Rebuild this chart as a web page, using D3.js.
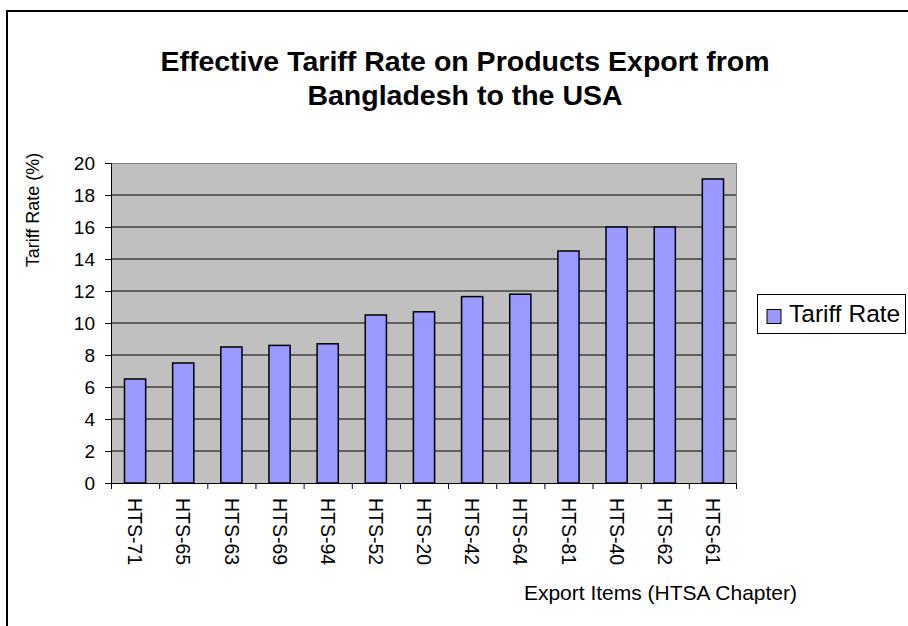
<!DOCTYPE html>
<html><head><meta charset="utf-8">
<script src="https://cdn.jsdelivr.net/npm/d3@7"></script>
<style>body{margin:0;background:#fff}svg{display:block;font-family:"Liberation Sans",Arial,sans-serif}</style>
</head><body><svg id="c" width="908" height="626"></svg>
<script>
const categories = ["HTS-71","HTS-65","HTS-63","HTS-69","HTS-94","HTS-52","HTS-20","HTS-42","HTS-64","HTS-81","HTS-40","HTS-62","HTS-61"];
const tariffRate = [6.5,7.5,8.5,8.6,8.7,10.5,10.7,11.65,11.8,14.5,16,16,19];
const yTicks = [0,2,4,6,8,10,12,14,16,18,20];
const titleLines = ["Effective Tariff Rate on Products Export from","Bangladesh to the USA"];
const seriesName = "Tariff Rate";

const svg = d3.select("#c");
const L=111, R=737, T=163, B=483;
const x = d3.scaleBand().domain(categories).range([L,R]).paddingInner(0.56).paddingOuter(0.28);
const xb = d3.scaleBand().domain(categories).range([L,R]);
const y = d3.scaleLinear().domain([0,20]).range([B,T]);

// outer border
svg.append("rect").attr("x",7).attr("y",11).attr("width",960).attr("height",700).attr("fill","#fff").attr("stroke","#000").attr("stroke-width",2);

// title
svg.append("g").selectAll("text").data(titleLines).join("text")
  .attr("x",465).attr("y",(d,i)=>71+i*34).attr("text-anchor","middle")
  .attr("font-size",28.5).attr("font-weight","bold").text(d=>d);

// plot background
svg.append("rect").attr("x",L).attr("y",T).attr("width",R-L).attr("height",B-T).attr("fill","#c0c0c0");
// gridlines
svg.append("g").selectAll("line").data(yTicks.filter(v=>v>0&&v<20)).join("line")
  .attr("x1",L).attr("x2",R).attr("y1",d=>y(d)).attr("y2",d=>y(d)).attr("stroke","#000").attr("stroke-width",1);
// top & right border of plot
svg.append("path").attr("d",`M${L},${T+0.5}H${R-0.5}V${B}`).attr("fill","none").attr("stroke","#808080").attr("stroke-width",1);

// bars
svg.append("g").selectAll("rect").data(tariffRate).join("rect")
  .attr("x",(d,i)=>x(categories[i])).attr("width",x.bandwidth())
  .attr("y",d=>y(d)).attr("height",d=>B-y(d))
  .attr("fill","#9999ff").attr("stroke","#000").attr("stroke-width",1.5);

// y axis
const ya = svg.append("g").attr("transform",`translate(${L},0)`)
  .call(d3.axisLeft(y).tickValues(yTicks).tickSize(6).tickPadding(10).tickFormat(d3.format("d")));
ya.select(".domain").attr("stroke","#000").attr("d",`M0.5,${T}V${B}`);
ya.selectAll("text").attr("font-size",19).attr("fill","#000").attr("font-family","Liberation Sans, Arial, sans-serif");
ya.selectAll("line").attr("x1",-6).attr("x2",0);

// x axis
const xa = svg.append("g").attr("transform",`translate(0,${B})`);
xa.append("line").attr("x1",L).attr("x2",R).attr("y1",0.5).attr("y2",0.5).attr("stroke","#000");
xa.selectAll(".tk").data(d3.range(categories.length+1)).join("line").attr("class","tk")
  .attr("x1",i=>i<categories.length? xb(categories[i])+0.5 : R-0.5).attr("x2",i=>i<categories.length? xb(categories[i])+0.5 : R-0.5)
  .attr("y1",0).attr("y2",6).attr("stroke","#000");
xa.selectAll(".lb").data(categories).join("text").attr("class","lb")
  .attr("transform",d=>`translate(${xb(d)+xb.bandwidth()/2},15) rotate(90)`)
  .attr("dy","0.35em").attr("font-size",19.5).text(d=>d);

// axis titles
svg.append("text").attr("transform","translate(33,210) rotate(-90)").attr("text-anchor","middle")
  .attr("dy","0.35em").attr("font-size",18).text("Tariff Rate (%)");
svg.append("text").attr("x",797).attr("y",600).attr("text-anchor","end").attr("font-size",21).text("Export Items (HTSA Chapter)");

// legend
const lg = svg.append("g");
lg.append("rect").attr("x",757.5).attr("y",294.5).attr("width",148).attr("height",39).attr("fill","#fff").attr("stroke","#000");
lg.append("rect").attr("x",767).attr("y",309.5).attr("width",14).attr("height",14).attr("fill","#9999ff").attr("stroke","#000");
lg.append("text").attr("x",789).attr("y",322).attr("font-size",24.5).text(seriesName);
</script></body></html>
